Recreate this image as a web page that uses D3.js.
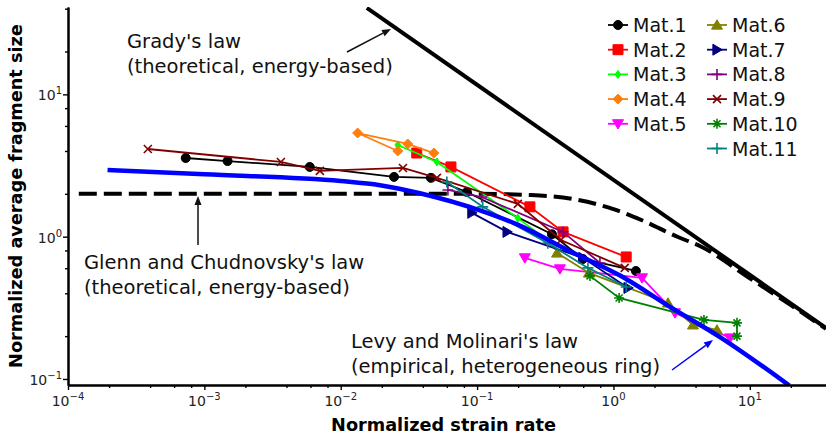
<!DOCTYPE html>
<html>
<head>
<meta charset="utf-8">
<script src="https://cdn.jsdelivr.net/npm/d3@7"></script>
<style>
  body { margin: 0; background: #fff; }
  svg { display: block; font-family: "DejaVu Sans", sans-serif; }
</style>
</head>
<body>
<svg id="chart" width="826" height="438"></svg>
<script>
// Données : [taux de déformation normalisé, taille moyenne normalisée]
const mat1 = [[7.3e-4, 3.57], [1.48e-3, 3.40], [5.93e-3, 3.09], [0.0246, 2.63], [0.0458, 2.59], [0.0841, 2.06], [0.354, 1.04], [0.597, 0.697], [1.46, 0.574]];
const mat2 = [[0.0361, 3.87], [0.0643, 3.09], [0.244, 1.62], [0.427, 1.08], [1.24, 0.72]];
const mat3 = [[0.0262, 4.41], [0.0507, 3.35], [0.199, 1.35], [0.372, 0.86]];
const mat4 = [[0.0262, 4.00], [0.0133, 5.35], [0.031, 4.48], [0.0482, 3.87]];
const mat5 = [[0.224, 0.709], [0.405, 0.593], [1.62, 0.513], [2.83, 0.291], [7.16, 0.194]];
const mat6 = [[0.386, 0.768], [0.661, 0.556], [2.51, 0.342], [3.83, 0.24], [5.74, 0.221]];
const mat7 = [[0.0916, 1.47], [0.166, 1.08], [0.597, 0.71], [1.28, 0.436]];
const mat8 = [[0.0611, 2.13], [0.108, 1.90], [0.427, 1.08], [0.796, 0.653]];
const mat9 = [[3.85e-4, 4.13], [3.64e-3, 3.35], [7.03e-3, 2.90], [0.0286, 3.04], [0.0507, 2.59], [0.199, 1.70], [0.412, 0.948], [1.21, 0.603]];
const mat10 = [[0.673, 0.53], [1.10, 0.371], [4.61, 0.26], [8.05, 0.248], [8.05, 0.20]];
const mat11 = [[0.060, 2.42], [0.110, 1.62], [0.33, 0.90], [0.65, 0.603], [1.24, 0.443]];

// Lois théoriques / empiriques
const gradyLaw = [[0.01554, 40.5], [36.2, 0.228]];
const glennChudnovsky = [[1.2e-4, 2.0], [0.1, 2.0], [0.25, 1.96], [0.5, 1.84], [1.0, 1.56], [1.6, 1.31], [3, 0.99], [4.3, 0.86], [10, 0.51], [20, 0.33], [36.2, 0.225]];
const levyMolinari = [[1.95e-4, 2.94], [0.001, 2.74], [0.01, 2.46], [0.0194, 2.3], [0.038, 2.02], [0.105, 1.53], [0.2, 1.21], [0.48, 0.79], [1.11, 0.535], [2.73, 0.312], [6.04, 0.197], [19.5, 0.09]];

const seriesNames = ["Mat.1", "Mat.2", "Mat.3", "Mat.4", "Mat.5", "Mat.6", "Mat.7", "Mat.8", "Mat.9", "Mat.10", "Mat.11"];
const seriesData = [mat1, mat2, mat3, mat4, mat5, mat6, mat7, mat8, mat9, mat10, mat11];
const seriesColors = ["#000000", "#ff0000", "#00ff00", "#ff7f0e", "#ff00ff", "#808000", "#000080", "#800080", "#800000", "#008000", "#008080"];
const seriesMarkers = ["o", "s", "d", "D", "v", "^", ">", "+", "x", "*", "+"];

const xMajor = [1e-4, 1e-3, 1e-2, 1e-1, 1e0, 1e1];
const xMajorLabels = ["−4", "−3", "−2", "−1", "0", "1"];
const yMajor = [1e-1, 1e0, 1e1];
const yMajorLabels = ["−1", "0", "1"];

// Dimensions
const margin = {left: 68, right: 826, top: 7, bottom: 385};
const svg = d3.select('#chart');

const x = d3.scaleLog().domain([1e-4, 36.2]).range([margin.left, margin.right]);
const y = d3.scaleLog().domain([0.0907, 41.1]).range([margin.bottom, margin.top]);

svg.append('defs').append('clipPath').attr('id', 'plot-clip')
    .append('rect').attr('x', margin.left).attr('y', margin.top)
    .attr('width', margin.right - margin.left).attr('height', margin.bottom - margin.top);

const line = d3.line().x(d => x(d[0])).y(d => y(d[1]));
const curve = d3.line().x(d => x(d[0])).y(d => y(d[1])).curve(d3.curveMonotoneX);

const plot = svg.append('g').attr('clip-path', 'url(#plot-clip)');

// Grady + Glenn & Chudnovsky (sous les séries)
plot.append('path').datum(gradyLaw)
    .attr('d', line).attr('fill', 'none').attr('stroke', '#000').attr('stroke-width', 4);
plot.append('path').datum(glennChudnovsky)
    .attr('d', curve).attr('fill', 'none').attr('stroke', '#000').attr('stroke-width', 4)
    .attr('stroke-dasharray', '18,7');

// Marqueurs
function markerPath(type, s) {
    const h = s / 2;
    switch (type) {
        case 'o': return `M${h},0A${h},${h} 0 1,1 ${-h},0A${h},${h} 0 1,1 ${h},0Z`;
        case 's': return `M${-h},${-h}H${h}V${h}H${-h}Z`;
        case 'D': return `M0,${-h}L${h},0L0,${h}L${-h},0Z`;
        case 'd': return `M0,${-h}L${h * 0.7},0L0,${h}L${-h * 0.7},0Z`;
        case 'v': return `M${-h},${-h * 0.75}L${h},${-h * 0.75}L0,${h * 0.95}Z`;
        case '^': return `M${-h},${h * 0.75}L${h},${h * 0.75}L0,${-h * 0.95}Z`;
        case '>': return `M${-h * 0.75},${-h}L${-h * 0.75},${h}L${h * 0.95},0Z`;
        case '+': return `M${-h},0H${h}M0,${-h}V${h}`;
        case 'x': { const k = h * 0.8; return `M${-k},${-k}L${k},${k}M${-k},${k}L${k},${-k}`; }
        case '*': { const k = h * 0.7; return `M${-h},0H${h}M0,${-h}V${h}M${-k},${-k}L${k},${k}M${-k},${k}L${k},${-k}`; }
    }
}
const markerSize = { 'o': 9, 's': 10, 'd': 8, 'D': 10, 'v': 11, '^': 11, '>': 11, '+': 11, 'x': 10, '*': 10 };
const openMarkers = ['+', 'x', '*'];

function drawMarker(g, type, color, cx, cy) {
    const open = openMarkers.includes(type);
    g.append('path')
        .attr('d', markerPath(type, markerSize[type]))
        .attr('transform', `translate(${cx},${cy})`)
        .attr('fill', open ? 'none' : color)
        .attr('stroke', color)
        .attr('stroke-width', open ? 1.6 : 1);
}

// Séries
const seriesLayer = svg.append('g');
seriesData.forEach((data, i) => {
    const g = seriesLayer.append('g');
    g.append('path').datum(data)
        .attr('d', line).attr('fill', 'none')
        .attr('stroke', seriesColors[i]).attr('stroke-width', 1.8);
    data.forEach(d => drawMarker(g, seriesMarkers[i], seriesColors[i], x(d[0]), y(d[1])));
});

// Levy & Molinari (au-dessus)
svg.append('g').attr('clip-path', 'url(#plot-clip)')
    .append('path').datum(levyMolinari)
    .attr('d', curve).attr('fill', 'none').attr('stroke', '#0000ff').attr('stroke-width', 4.5);

// Axes
const xMinor = [], yMinor = [];
for (let e = -4; e <= 1; e++) [2, 4, 6, 8].forEach(m => {
    const v = m * Math.pow(10, e);
    if (v <= 36.2) xMinor.push(v);
    if (v >= 0.0907 && v <= 41.1) yMinor.push(v);
});

function styleAxis(g) {
    g.select('.domain').attr('stroke', '#000').attr('stroke-width', 2);
    g.selectAll('.tick line').attr('stroke', '#000').attr('stroke-width', 1.4);
}

svg.append('g').attr('transform', `translate(0,${margin.bottom})`)
    .call(d3.axisBottom(x).tickValues(xMinor).tickSize(3).tickSizeOuter(0).tickFormat(''))
    .call(styleAxis);
svg.append('g').attr('transform', `translate(0,${margin.bottom})`)
    .call(d3.axisBottom(x).tickValues(xMajor).tickSize(5).tickSizeOuter(0).tickFormat(''))
    .call(styleAxis);
svg.append('g').attr('transform', `translate(${margin.left},0)`)
    .call(d3.axisLeft(y).tickValues(yMinor).tickSize(3).tickSizeOuter(0).tickFormat(''))
    .call(styleAxis);
svg.append('g').attr('transform', `translate(${margin.left},0)`)
    .call(d3.axisLeft(y).tickValues(yMajor).tickSize(5).tickSizeOuter(0).tickFormat(''))
    .call(styleAxis);

// Étiquettes de graduation 10^n
xMajor.forEach((v, i) => {
    const t = svg.append('text').attr('x', x(v)).attr('y', 406)
        .attr('text-anchor', 'middle').attr('font-size', 14).attr('fill', '#222');
    t.append('tspan').text('10');
    t.append('tspan').attr('dy', -6).attr('font-size', 10).text(xMajorLabels[i]);
});
yMajor.forEach((v, i) => {
    const t = svg.append('text').attr('x', 62).attr('y', y(v) + 6)
        .attr('text-anchor', 'end').attr('font-size', 14).attr('fill', '#222');
    t.append('tspan').text('10');
    t.append('tspan').attr('dy', -6).attr('font-size', 10).text(yMajorLabels[i]);
});

// Titres des axes
svg.append('text').attr('x', 443.5).attr('y', 431).attr('text-anchor', 'middle')
    .attr('font-size', 17.7).attr('font-weight', 'bold').text('Normalized strain rate');
svg.append('text').attr('transform', `translate(21.5,196) rotate(-90)`).attr('text-anchor', 'middle')
    .attr('font-size', 17.7).attr('font-weight', 'bold').text('Normalized average fragment size');

// Annotations
function note(xp, y1, lines) {
    lines.forEach((s, i) => svg.append('text').attr('x', xp).attr('y', y1 + i * 24.5)
        .attr('font-size', 19.5).attr('fill', '#111').text(s));
}
note(127, 48, ["Grady's law", "(theoretical, energy-based)"]);
note(84, 269, ["Glenn and Chudnovsky's law", "(theoretical, energy-based)"]);
note(351, 348, ["Levy and Molinari's law", "(empirical, heterogeneous ring)"]);

function arrow(x1, y1, x2, y2, color) {
    const a = Math.atan2(y2 - y1, x2 - x1), L = 9, W = 3.5;
    const bx = x2 - L * Math.cos(a), by = y2 - L * Math.sin(a);
    svg.append('line').attr('x1', x1).attr('y1', y1).attr('x2', bx).attr('y2', by)
        .attr('stroke', color).attr('stroke-width', 1.5);
    svg.append('path')
        .attr('d', `M${x2},${y2}L${bx - W * Math.sin(a)},${by + W * Math.cos(a)}L${bx + W * Math.sin(a)},${by - W * Math.cos(a)}Z`)
        .attr('fill', color);
}
arrow(347, 52, 391, 29, '#111');
arrow(198, 245, 198, 196, '#111');
arrow(672, 370, 713, 340, '#0000ff');

// Légende
const legend = svg.append('g');
seriesNames.forEach((name, i) => {
    const col = i < 5 ? 0 : 1, row = i < 5 ? i : i - 5;
    const lx = col === 0 ? 608 : 707, ly = 25 + row * 24.7;
    legend.append('line').attr('x1', lx).attr('x2', lx + 20).attr('y1', ly).attr('y2', ly)
        .attr('stroke', seriesColors[i]).attr('stroke-width', 1.8);
    drawMarker(legend, seriesMarkers[i], seriesColors[i], lx + 10, ly);
    legend.append('text').attr('x', lx + 25).attr('y', ly + 7)
        .attr('font-size', 19).attr('fill', '#111').text(name);
});
</script>
</body>
</html>
